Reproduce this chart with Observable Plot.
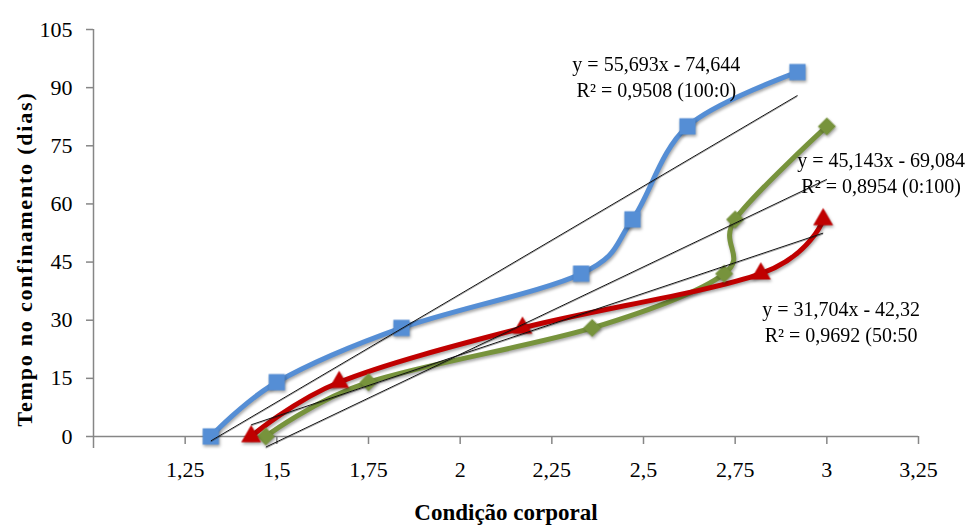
<!DOCTYPE html>
<html>
<head>
<meta charset="utf-8">
<script src="https://cdn.jsdelivr.net/npm/d3@7"></script>
<script src="https://cdn.jsdelivr.net/npm/@observablehq/plot@0.6"></script>
<style>
  html, body { margin: 0; padding: 0; background: #fff; }
  #chart svg { overflow: visible; }
  #chart svg text { font-family: 'Liberation Serif', 'Times New Roman', serif; }
  #chart g[aria-label="line"], #chart g[aria-label="dot"] {
    filter: drop-shadow(1.5px 2px 1.5px rgba(0,0,0,0.35));
  }
  #chart g[aria-label="link"] {
    filter: drop-shadow(0.8px 1px 0.6px rgba(0,0,0,0.35));
  }
</style>
</head>
<body>
<div id="chart"></div>
<script>
// ---- data ----
const seriesNames = ["100:0", "0:100", "50:50"];
const bcs100 = [1.32, 1.50, 1.84, 2.33, 2.47, 2.62, 2.92];
const days100 = [0, 14, 28, 42, 56, 80, 94];
const bcs0 = [1.47, 1.75, 2.36, 2.72, 2.75, 3.00];
const days0 = [0, 14, 28, 42, 56, 80];
const bcs50 = [1.43, 1.67, 2.17, 2.82, 2.99];
const days50 = [0, 14, 28, 42, 56];
const slopes = [55.693, 45.143, 31.704];
const intercepts = [-74.644, -69.084, -42.32];
const eqTexts = ["y = 55,693x - 74,644", "y = 45,143x - 69,084", "y = 31,704x - 42,32"];
const r2Texts = ["R² = 0,9508 (100:0)", "R² = 0,8954 (0:100)", "R² = 0,9692 (50:50"];
const xTicks = [1.25, 1.5, 1.75, 2, 2.25, 2.5, 2.75, 3, 3.25];
const yTicks = [0, 15, 30, 45, 60, 75, 90, 105];
const xLabel = "Condição corporal";
const yLabel = "Tempo no confinamento (dias)";

// ---- build tables ----
const xs = [bcs100, bcs0, bcs50];
const ys = [days100, days0, days50];
const points = seriesNames.flatMap((s, i) => xs[i].map((x, j) => ({series: s, x, y: ys[i][j]})));
const trends = seriesNames.map((s, i) => {
  const x1 = d3.min(xs[i]), x2 = d3.max(xs[i]);
  return {series: s, x1, x2, y1: slopes[i] * x1 + intercepts[i], y2: slopes[i] * x2 + intercepts[i]};
});
// annotation anchors (data units)
const labelPos = [{x: 2.535, y: 93.1}, {x: 3.148, y: 68.3}, {x: 3.039, y: 29.8}];
const annotations = seriesNames.map((s, i) => ({...labelPos[i], text: eqTexts[i] + "\n" + r2Texts[i]}));

const colors = {"100:0": "#558ED5", "0:100": "#77933C", "50:50": "#C00000"};
const sym = (s) => points.filter(d => d.series === s);

const chart = Plot.plot({
  width: 968,
  height: 525,
  marginLeft: 93,
  marginRight: 50,
  marginTop: 29,
  marginBottom: 89,
  style: {fontFamily: "'Liberation Serif', 'Times New Roman', serif", background: "#fff", color: "#000"},
  x: {domain: [1, 3.25]},
  y: {domain: [0, 105]},
  marks: [
    // axes
    Plot.ruleY([0], {stroke: "#868686", strokeWidth: 1.5}),
    Plot.ruleX([1], {stroke: "#868686", strokeWidth: 1.5, insetBottom: -12}),
    Plot.axisX({ticks: xTicks, tickFormat: d => String(d).replace(".", ","), tickSize: 8, tickPadding: 17,
      fontSize: 22, stroke: "#868686", strokeWidth: 1.5, label: null, color: "#000"}),
    Plot.axisY({ticks: yTicks, tickSize: 7, tickPadding: 14, fontSize: 22, stroke: "#868686",
      strokeWidth: 1.5, label: null}),
    // series lines
    ...seriesNames.map(s => Plot.line(sym(s), {x: "x", y: "y", stroke: colors[s], strokeWidth: 5,
      curve: "cardinal", tension: 0})),
    Plot.dot(sym("100:0"), {x: "x", y: "y", symbol: "square", r: 9.2, fill: colors["100:0"]}),
    Plot.dot(sym("0:100"), {x: "x", y: "y", symbol: "square", r: 7.2, rotate: 45, fill: colors["0:100"]}),
    Plot.dot(sym("50:50"), {x: "x", y: "y", symbol: "triangle", r: 7.4, fill: colors["50:50"]}),
    // trend lines
    Plot.link(trends, {x1: "x1", y1: "y1", x2: "x2", y2: "y2", stroke: "#111", strokeWidth: 1}),
    // annotations
    Plot.text(annotations, {x: "x", y: "y", text: "text", fontSize: 20, lineHeight: 1.3,
      textAnchor: "middle", lineAnchor: "middle", fill: "#000"}),
    // axis titles
    Plot.text([xLabel], {frameAnchor: "bottom", dy: 76, fontSize: 23, fontWeight: "bold",
      textAnchor: "middle", lineAnchor: "middle", fill: "#000"}),
    Plot.text([yLabel], {frameAnchor: "left", rotate: -90, dx: -69, dy: 26, fontSize: 22,
      fontWeight: "bold", textAnchor: "middle", lineAnchor: "middle", fill: "#000"})
  ]
});
d3.select(chart).selectAll("text")
  .filter(function () { return this.textContent === yLabel; })
  .style("letter-spacing", "1.8px");
document.getElementById("chart").append(chart);
</script>
</body>
</html>
